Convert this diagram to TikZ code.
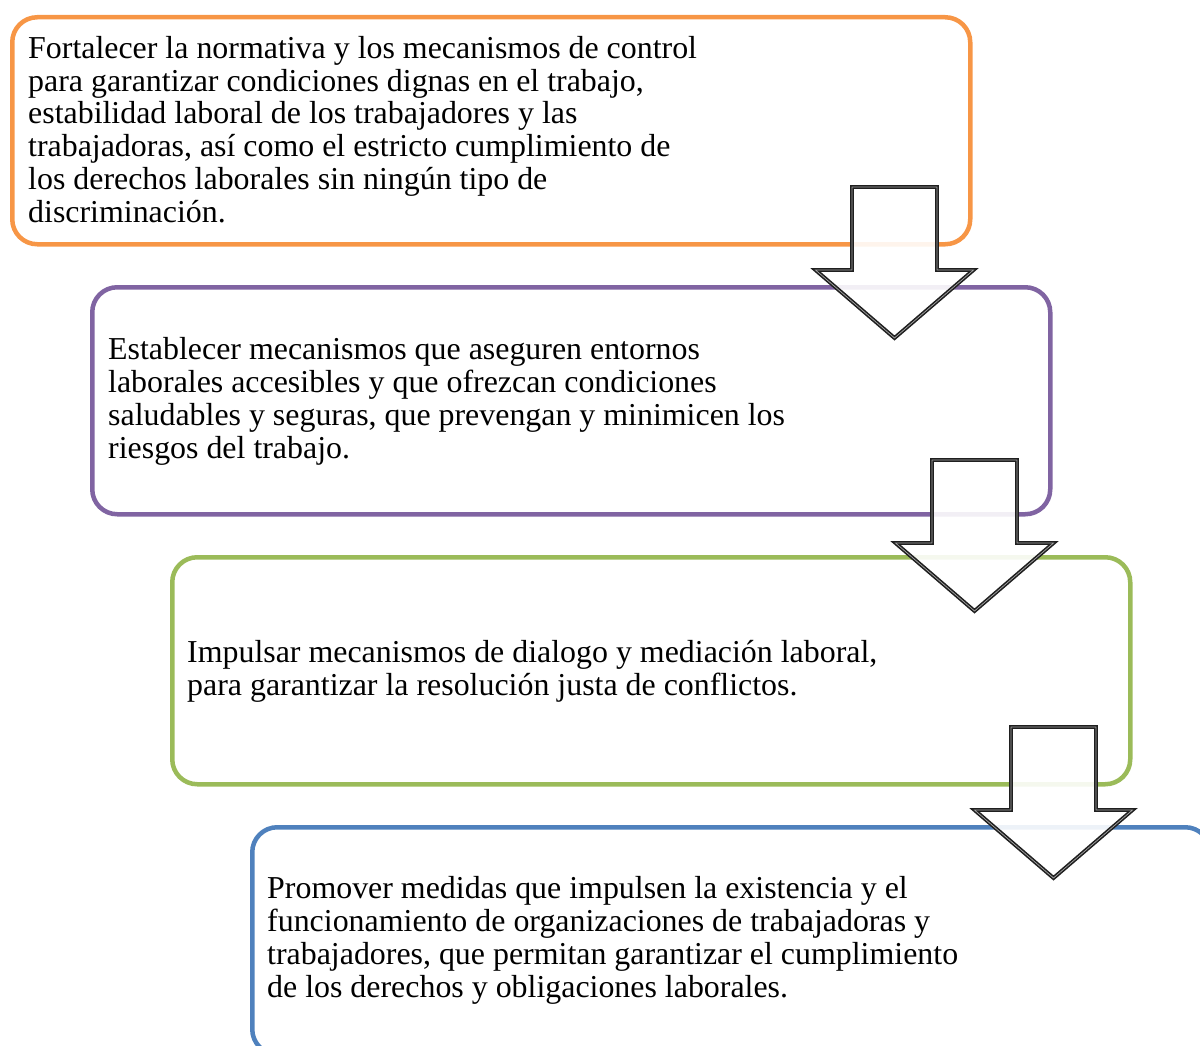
\documentclass[tikz,border=0pt]{standalone}
\usepackage{fontspec}
\setmainfont{Liberation Serif}
\definecolor{cOrange}{HTML}{F79646}
\definecolor{cPurple}{HTML}{8064A2}
\definecolor{cGreen}{HTML}{9BBB59}
\definecolor{cBlue}{HTML}{4F81BD}
\tikzset{
  stepbox/.style={draw, line width=4.5pt, rounded corners=25pt, minimum width=958pt, minimum height=227pt, anchor=north west, inner sep=0pt, fill=none},
  steptext/.style={anchor=west, align=left, inner sep=0pt, font=\fontsize{31.9}{32.8}\selectfont},
  blockarrow/.style={draw=black!88, line width=1.6pt, double=black!35, double distance=0.7pt, fill=white, fill opacity=0.9, line join=miter}
}
\newcommand\blkarrow[2]{%
  \draw[blockarrow] ({#1-42.5},{#2}) -- ({#1+42.5},{#2}) -- ({#1+42.5},{#2+83}) -- ({#1+79},{#2+83}) -- ({#1},{#2+151}) -- ({#1-79},{#2+83}) -- ({#1-42.5},{#2+83}) -- cycle;}
\begin{document}
\begin{tikzpicture}[x=1pt,y=-1pt]
\useasboundingbox (0,0) rectangle (1200,1046);
\clip (0,0) rectangle (1200,1046);
\node[stepbox, draw=cOrange] (b1) at (10,15) {};
\node[stepbox, draw=cPurple] (b2) at (90,285) {};
\node[stepbox, draw=cGreen] (b3) at (170,555) {};
\node[stepbox, draw=cBlue] (b4) at (250,825) {};
\node[steptext] (t1) at (28,129.5) {Fortalecer la normativa y los mecanismos de control\\para garantizar condiciones dignas en el trabajo,\\estabilidad laboral de los trabajadores y las\\trabajadoras, así como el estricto cumplimiento de\\los derechos laborales sin ningún tipo de\\discriminación.};
\node[steptext] (t2) at (108,401.5) {Establecer mecanismos que aseguren entornos\\laborales accesibles y que ofrezcan condiciones\\saludables y seguras, que prevengan y minimicen los\\riesgos del trabajo.};
\node[steptext] (t3) at (187,671) {Impulsar mecanismos de dialogo y mediación laboral,\\para garantizar la resolución justa de conflictos.};
\node[steptext] (t4) at (267,940.5) {Promover medidas que impulsen la existencia y el\\funcionamiento de organizaciones de trabajadoras y\\trabajadores, que permitan garantizar el cumplimiento\\de los derechos y obligaciones laborales.};
\blkarrow{894.5}{187}
\blkarrow{974.5}{460}
\blkarrow{1053.5}{727}
\end{tikzpicture}
\end{document}
